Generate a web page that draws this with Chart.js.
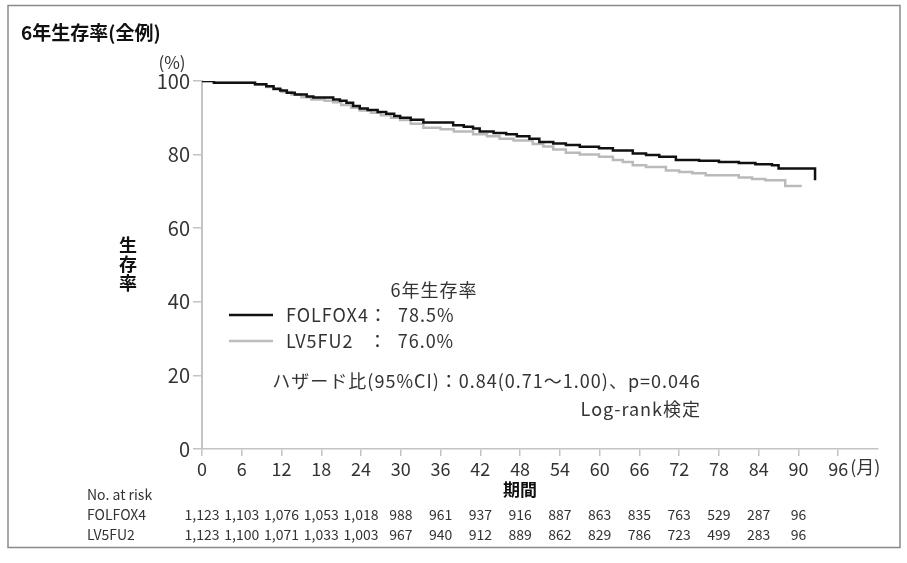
<!DOCTYPE html>
<html>
<head>
<meta charset="utf-8">
<script src="https://cdn.jsdelivr.net/npm/chart.js@4.4.1/dist/chart.umd.min.js"></script>
<style>
  body { margin: 0; background: #fff; }
  canvas { display: block; }
</style>
</head>
<body>
<canvas id="kmChart" width="907" height="563"></canvas>
<script>
// months / survival (%)
const folfoxMonths = [0, 1.8, 8.0, 9.7, 10.8, 11.8, 12.8, 14.0, 15.8, 16.8, 19.8, 20.8, 21.8, 22.8, 23.8, 25.0, 26.5, 27.8, 29.0, 29.9, 31.5, 33.4, 37.9, 39.5, 40.9, 41.9, 44.0, 45.9, 47.5, 49.4, 50.9, 53.0, 54.9, 57.0, 59.9, 62.0, 65.0, 67.0, 69.0, 71.5, 75.0, 78.0, 81.0, 83.5, 86.0, 87.0, 92.5, 92.5];
const folfoxSurv   = [100, 99.5, 99.1, 98.6, 97.9, 97.4, 96.8, 96.3, 95.8, 95.5, 95.0, 94.6, 94.1, 93.2, 92.5, 92.1, 91.6, 91.1, 90.5, 90.0, 89.5, 88.7, 88.0, 87.6, 87.1, 86.3, 85.9, 85.5, 85.0, 84.3, 83.4, 83.0, 82.6, 82.1, 81.7, 81.1, 80.3, 79.9, 79.4, 78.5, 78.3, 78.0, 77.7, 77.4, 77.1, 76.2, 76.2, 73.0];

const lv5Months = [0, 1.8, 8.0, 9.7, 10.8, 12.0, 13.5, 15.0, 16.5, 18.5, 19.8, 21.0, 22.5, 23.8, 25.5, 27.0, 28.5, 29.9, 31.5, 33.4, 36.0, 38.0, 40.9, 43.0, 44.9, 47.0, 49.9, 51.5, 53.0, 54.9, 57.0, 59.9, 62.0, 63.5, 65.0, 67.0, 70.0, 72.0, 74.0, 76.0, 81.0, 83.0, 85.0, 88.0, 90.5];
const lv5Surv   = [100, 99.5, 99.0, 98.4, 97.7, 97.0, 96.3, 95.6, 95.0, 94.6, 94.2, 93.5, 92.7, 92.0, 91.4, 90.7, 90.0, 89.4, 88.4, 87.3, 86.9, 86.3, 85.5, 85.0, 84.3, 83.8, 82.9, 82.2, 81.4, 80.5, 80.0, 79.4, 78.5, 78.0, 77.1, 76.6, 75.7, 75.3, 74.9, 74.4, 73.8, 73.4, 73.0, 71.5, 71.5];

const riskMonths = [0, 6, 12, 18, 24, 30, 36, 42, 48, 54, 60, 66, 72, 78, 84, 90];
const riskFolfox = ['1,123', '1,103', '1,076', '1,053', '1,018', '988', '961', '937', '916', '887', '863', '835', '763', '529', '287', '96'];
const riskLv5    = ['1,123', '1,100', '1,071', '1,033', '1,003', '967', '940', '912', '889', '862', '829', '786', '723', '499', '283', '96'];

const FONT = '"Noto Sans CJK JP", "Noto Sans", sans-serif';
const AXIS_GRAY = '#c4c4c4';

function toPoints(xs, ys) {
    return xs.map((x, i) => ({ x: x, y: ys[i] }));
}

//! ===================== text, legend, risk table =====================
const annotations = {
    id: 'annotations',
    beforeDraw(chart) {
        const ctx = chart.ctx;
        ctx.save();
        ctx.fillStyle = '#fff';
        ctx.fillRect(0, 0, chart.width, chart.height);
        ctx.restore();
    },
    afterDraw(chart) {
        const ctx = chart.ctx;
        const xs = chart.scales.x;
        ctx.save();

        // frame
        ctx.strokeStyle = '#8a8a8a';
        ctx.lineWidth = 1.5;
        ctx.strokeRect(8, 5.5, 892, 542);

        // title
        ctx.fillStyle = '#111';
        ctx.textBaseline = 'middle';
        ctx.textAlign = 'left';
        ctx.font = 'bold 19px ' + FONT;
        ctx.fillText('6年生存率(全例)', 21, 33);

        // (%) over the y axis
        ctx.font = '17px ' + FONT;
        ctx.fillStyle = '#333';
        ctx.textAlign = 'center';
        ctx.fillText('(%)', 172, 63);

        // y title, vertical
        ctx.font = 'bold 18px ' + FONT;
        ctx.fillStyle = '#111';
        ['生', '存', '率'].forEach((ch, i) => ctx.fillText(ch, 128, 245 + i * 19));

        // x title
        ctx.font = 'bold 17px ' + FONT;
        ctx.fillText('期間', xs.getPixelForValue(48), 490);

        // (月) after the last tick label
        ctx.font = '18px ' + FONT;
        ctx.fillStyle = '#333';
        ctx.textAlign = 'left';
        ctx.fillText('(月)', xs.getPixelForValue(96) + 12, 467);

        // legend block
        ctx.fillStyle = '#333';
        ctx.font = '18px ' + FONT;
        ctx.letterSpacing = '1px';
        ctx.textAlign = 'center';
        ctx.fillText('6年生存率', 434, 290);
        ctx.textAlign = 'left';
        ctx.fillText('FOLFOX4：  78.5%', 286, 315);
        ctx.fillText('LV5FU2   ：  76.0%', 286, 341);
        ctx.lineWidth = 2.5;
        ctx.strokeStyle = '#111';
        ctx.beginPath(); ctx.moveTo(229, 315); ctx.lineTo(273, 315); ctx.stroke();
        ctx.strokeStyle = '#bdbdbd';
        ctx.beginPath(); ctx.moveTo(229, 341); ctx.lineTo(273, 341); ctx.stroke();

        ctx.textAlign = 'right';
        ctx.fillText('ハザード比(95%CI)：0.84(0.71～1.00)、p=0.046', 701, 381);
        ctx.fillText('Log-rank検定', 701, 409);
        ctx.letterSpacing = '0px';

        // number at risk
        ctx.textAlign = 'left';
        ctx.font = '14px ' + FONT;
        ctx.fillText('No. at risk', 87, 495);
        ctx.fillText('FOLFOX4', 87, 515);
        ctx.fillText('LV5FU2', 87, 535);
        ctx.textAlign = 'center';
        ctx.font = '14px ' + FONT;
        riskMonths.forEach((m, i) => {
            const px = xs.getPixelForValue(m);
            ctx.fillText(riskFolfox[i], px, 515);
            ctx.fillText(riskLv5[i], px, 535);
        });

        ctx.restore();
    }
};

//! ========================= chart =========================
const ctx = document.getElementById('kmChart').getContext('2d');
new Chart(ctx, {
    type: 'line',
    data: {
        datasets: [{
            label: 'FOLFOX4',
            data: toPoints(folfoxMonths, folfoxSurv),
            borderColor: '#111',
            borderWidth: 2.5,
            stepped: 'before',
            pointRadius: 0
        }, {
            label: 'LV5FU2',
            data: toPoints(lv5Months, lv5Surv),
            borderColor: '#bababa',
            borderWidth: 2.5,
            stepped: 'before',
            pointRadius: 0
        }]
    },
    options: {
        responsive: false,
        animation: false,
        devicePixelRatio: 1,
        layout: { padding: { left: 0, top: 81, right: 29, bottom: 84 } },
        plugins: {
            legend: { display: false },
            tooltip: { enabled: false }
        },
        scales: {
            x: {
                type: 'linear',
                min: 0,
                max: 102,
                afterBuildTicks: scale => {
                    scale.ticks = scale.ticks.filter(t => t.value <= 96);
                },
                afterFit: scale => { scale.height = 30; },
                ticks: {
                    stepSize: 6,
                    color: '#333',
                    padding: 2,
                    maxRotation: 0,
                    font: { family: FONT, size: 18 }
                },
                grid: { drawOnChartArea: false, color: AXIS_GRAY, tickLength: 7, lineWidth: 1.5 },
                border: { color: AXIS_GRAY, width: 1.5 }
            },
            y: {
                min: 0,
                max: 100,
                afterFit: scale => { scale.width = 202; },
                ticks: {
                    stepSize: 20,
                    color: '#333',
                    padding: 3,
                    font: { family: FONT, size: 20 }
                },
                grid: { drawOnChartArea: false, color: AXIS_GRAY, tickLength: 9, lineWidth: 1.5 },
                border: { color: AXIS_GRAY, width: 2 }
            }
        }
    },
    plugins: [annotations]
});
</script>
</body>
</html>
